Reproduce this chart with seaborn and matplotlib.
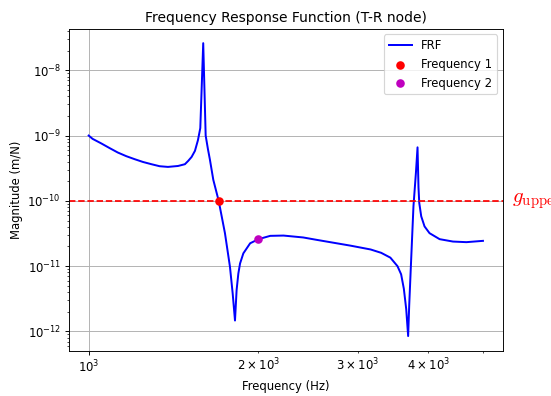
import numpy as np
import pandas as pd
import matplotlib
matplotlib.use('Agg')
import matplotlib.pyplot as plt
import matplotlib.transforms as mtransforms
import seaborn as sns

# FRF magnitude (Hz, m/N)
freq = [1000, 1016, 1052, 1089, 1126, 1166, 1206, 1248, 1292, 1336, 1382,
        1440, 1481, 1501, 1522, 1543, 1562, 1577,
        1596, 1612, 1627, 1640, 1663, 1700, 1744, 1780, 1800, 1817, 1829,
        1842, 1855, 1880, 1933, 2000, 2098, 2215, 2400, 2541, 2912, 3161,
        3300, 3426, 3527, 3580, 3620, 3655, 3684, 3700, 3725, 3765, 3803,
        3828, 3843, 3855, 3886, 3939, 4020, 4189, 4424, 4673, 5000]
mag = [1.0e-9, 8.9e-10, 7.6e-10, 6.43e-10, 5.5e-10, 4.83e-10, 4.35e-10,
       3.94e-10, 3.64e-10, 3.39e-10, 3.31e-10,
       3.42e-10, 3.64e-10, 4.09e-10, 4.7e-10, 5.83e-10, 8.5e-10, 1.3e-9,
       2.6e-8, 1.0e-9, 6.2e-10, 4.3e-10, 2.1e-10, 1.0e-10, 3.2e-11, 9.8e-12,
       3.8e-12, 1.47e-12, 4.3e-12,
       7.7e-12, 1.1e-11, 1.57e-11, 2.24e-11, 2.59e-11, 2.91e-11, 2.94e-11,
       2.75e-11, 2.52e-11, 2.06e-11, 1.8e-11,
       1.6e-11, 1.35e-11, 1.0e-11, 7.5e-12, 4.5e-12, 2.2e-12, 8.5e-13,
       2.5e-12, 9.8e-12, 8.3e-11, 2.7e-10,
       6.6e-10, 1.6e-10, 9.3e-11, 5.8e-11, 4.06e-11, 3.2e-11, 2.59e-11,
       2.38e-11, 2.33e-11, 2.44e-11]

# marked frequencies
f1 = [1700]
m1 = [1.0e-10]
f2 = [2000]
m2 = [2.59e-11]

g_upper = 1e-10

frf = pd.DataFrame({'Frequency': freq, 'Magnitude': mag})

fig = plt.figure(figsize=(551 / 83.333, 396 / 83.333), dpi=83.333)
ax = fig.add_axes([0.1252, 0.1144, 0.9123 - 0.1252, 0.928 - 0.1144])

sns.lineplot(data=frf, x='Frequency', y='Magnitude', color='b', linewidth=1.7,
             label='FRF', ax=ax)
sns.scatterplot(x=f1, y=m1, color='r', s=55, linewidth=0, label='Frequency 1',
                ax=ax, zorder=3)
sns.scatterplot(x=f2, y=m2, color='m', s=55, linewidth=0, label='Frequency 2',
                ax=ax, zorder=3)
ax.axhline(g_upper, color='r', linestyle='--', linewidth=1.5)

ax.set_xscale('log')
ax.set_yscale('log')
ax.grid(True)
ax.set_axisbelow(True)

# label for the threshold line, sitting just outside the axes (runs off the figure edge like the original)
trans = mtransforms.blended_transform_factory(ax.transAxes, ax.transData)
ax.text(1.0215, g_upper, r'$g_{\mathrm{upper}}$', color='r', fontsize=18,
        math_fontfamily='cm', transform=trans, ha='left', va='center',
        clip_on=False)

ax.set_title('Frequency Response Function (T-R node)')
ax.set_xlabel('Frequency (Hz)')
ax.set_ylabel('Magnitude (m/N)')
ax.legend(loc='upper right')

fig.savefig('out.png', dpi=83.333)
